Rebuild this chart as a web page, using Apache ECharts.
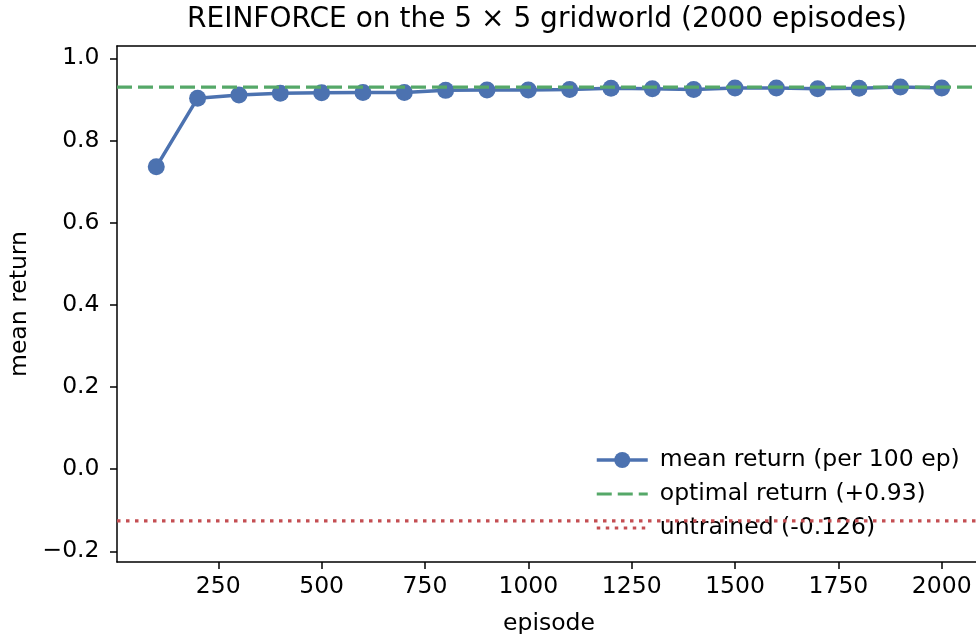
<!DOCTYPE html>
<html>
<head>
<meta charset="utf-8">
<title>REINFORCE on the 5x5 gridworld</title>
<script src="https://cdn.jsdelivr.net/npm/echarts@6/dist/echarts.min.js"></script>
<style>
  html, body { margin: 0; padding: 0; background: #fff; }
  #chart { width: 976px; height: 634px; }
</style>
</head>
<body>
<div id="chart"></div>
<script>
// Episode index at the end of each 100-episode block
const episodes = [100, 200, 300, 400, 500, 600, 700, 800, 900, 1000,
                  1100, 1200, 1300, 1400, 1500, 1600, 1700, 1800, 1900, 2000];
// Mean return over each block of 100 episodes
const meanReturn = [0.736, 0.903, 0.911, 0.915, 0.916, 0.917, 0.917, 0.922, 0.923, 0.923,
                    0.924, 0.927, 0.926, 0.924, 0.928, 0.928, 0.926, 0.927, 0.930, 0.928];
// Reference levels
const optimalReturn = 0.93;
const untrainedReturn = -0.126;
// Axis limits and tick labels
const xLimits = [5, 2095];
const yLimits = [-0.226, 1.03];
const xTicks = [250, 500, 750, 1000, 1250, 1500, 1750, 2000];
const yTicks = [-0.2, 0.0, 0.2, 0.4, 0.6, 0.8, 1.0];

const FONT = 'DejaVu Sans';
const BLUE = '#4C72B0', GREEN = '#55A868', RED = '#C44E52';

const blueLine = { color: BLUE, width: 3.5 };
const greenLine = { color: GREEN, width: 3.2, type: [15, 6] };
const redLine = { color: RED, width: 3.2, type: [3.5, 5.5] };

const chart = echarts.init(document.getElementById('chart'), null, { renderer: 'canvas' });

const axisText = { fontFamily: FONT, fontSize: 23.5, color: '#000' };
const spine = { show: true, onZero: false, lineStyle: { color: '#000', width: 1.5 } };
const tick = { show: true, length: 7, lineStyle: { color: '#000', width: 1.5 } };

chart.setOption({
  animation: false,
  backgroundColor: '#fff',
  title: {
    text: 'REINFORCE on the 5 \u00d7 5 gridworld (2000 episodes)',
    left: 187,
    top: 6,
    padding: 0,
    textStyle: { fontFamily: FONT, fontSize: 28, fontWeight: 'normal', color: '#000' }
  },
  grid: {
    left: 117, top: 46, width: 864, height: 516,
    containLabel: false,
    outerBoundsMode: 'none'
  },
  legend: {
    orient: 'vertical',
    left: 590,
    top: 443,
    itemWidth: 51,
    itemHeight: 20,
    itemGap: 10,
    selectedMode: false,
    textStyle: { fontFamily: FONT, fontSize: 23.5, color: '#000', padding: [0, 0, 0, 7] },
    data: [
      { name: 'mean return (per 100 ep)', lineStyle: blueLine },
      { name: 'optimal return (+0.93)', itemStyle: { opacity: 0 }, lineStyle: greenLine },
      { name: 'untrained (-0.126)', itemStyle: { opacity: 0 }, lineStyle: redLine }
    ]
  },
  xAxis: [{
    type: 'value',
    min: xLimits[0],
    max: xLimits[1],
    name: 'episode',
    nameLocation: 'middle',
    nameGap: 50,
    nameTextStyle: axisText,
    splitLine: { show: false },
    axisLine: spine,
    axisTick: { ...tick, customValues: xTicks },
    axisLabel: { margin: 13, customValues: xTicks, formatter: v => String(v), ...axisText }
  }, {
    type: 'value',
    position: 'top',
    min: xLimits[0],
    max: xLimits[1],
    splitLine: { show: false },
    axisLine: spine,
    axisTick: { show: false },
    axisLabel: { show: false }
  }],
  yAxis: {
    type: 'value',
    min: yLimits[0],
    max: yLimits[1],
    name: 'mean return',
    nameLocation: 'middle',
    nameGap: 84,
    nameTextStyle: axisText,
    splitLine: { show: false },
    axisLine: spine,
    axisTick: { ...tick, customValues: yTicks },
    axisLabel: {
      margin: 17.5,
      customValues: yTicks,
      formatter: v => (v < 0 ? '\u2212' : '') + Math.abs(v).toFixed(1),
      ...axisText
    }
  },
  series: [
    {
      name: 'mean return (per 100 ep)',
      type: 'line',
      data: episodes.map((e, i) => [e, meanReturn[i]]),
      symbol: 'circle',
      symbolSize: 17,
      showAllSymbol: true,
      itemStyle: { color: BLUE },
      lineStyle: blueLine,
      z: 3
    },
    {
      name: 'optimal return (+0.93)',
      type: 'line',
      data: xLimits.map(x => [x, optimalReturn]),
      showSymbol: false,
      symbol: 'none',
      itemStyle: { color: GREEN },
      lineStyle: greenLine,
      z: 4
    },
    {
      name: 'untrained (-0.126)',
      type: 'line',
      data: xLimits.map(x => [x, untrainedReturn]),
      showSymbol: false,
      symbol: 'none',
      itemStyle: { color: RED },
      lineStyle: redLine,
      z: 4
    }
  ]
});
</script>
</body>
</html>
